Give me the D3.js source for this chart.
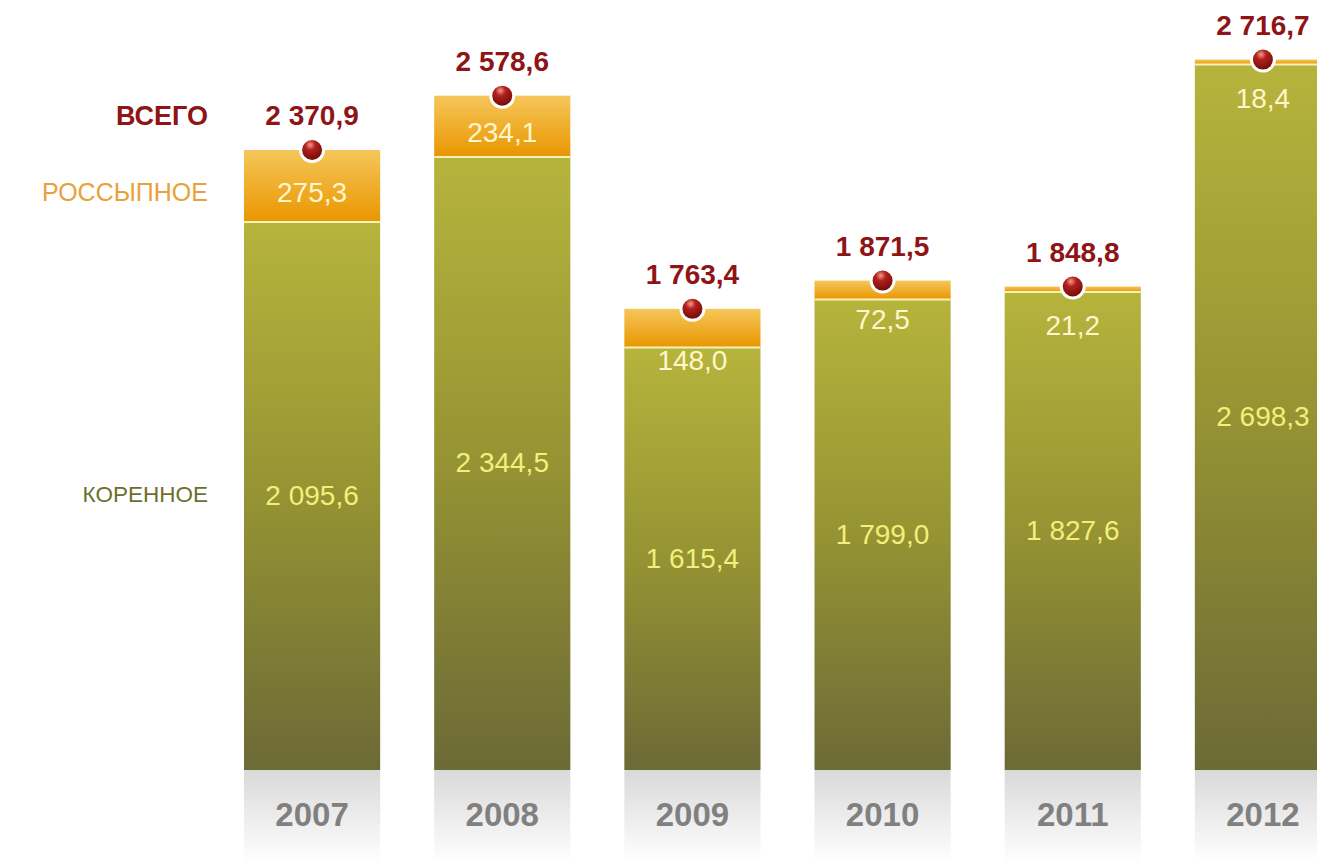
<!DOCTYPE html>
<html><head><meta charset="utf-8">
<script src="https://cdn.jsdelivr.net/npm/d3@7"></script>
<style>
html,body{margin:0;padding:0;background:#fff;}
svg{display:block;font-family:Arial,"Liberation Sans",sans-serif;}
</style></head>
<body>
<svg id="c" width="1317" height="863"></svg>
<script>
const years = ["2007","2008","2009","2010","2011","2012"];
const koren = [2095.6, 2344.5, 1615.4, 1799.0, 1827.6, 2698.3];
const rossyp = [275.3, 234.1, 148.0, 72.5, 21.2, 18.4];
const total = [2370.9, 2578.6, 1763.4, 1871.5, 1848.8, 2716.7];
const legend = ["ВСЕГО", "РОССЫПНОЕ", "КОРЕННОЕ"];

const fmt = v => {
  const s = v.toFixed(1).replace(".", ",");
  const [i, f] = s.split(",");
  return i.replace(/\B(?=(\d{3})+(?!\d))/g, " ") + "," + f;
};

const svg = d3.select("#c");
const W = 1317, H = 863;
const x = d3.scaleBand().domain(years).range([244, 1331]).paddingInner(0.284).paddingOuter(0);
const y = d3.scaleLinear().domain([0, 2370.9]).range([770, 150]);

const defs = svg.append("defs");
const gG = defs.append("linearGradient").attr("id","gG").attr("x1",0).attr("y1",0).attr("x2",0).attr("y2",1);
gG.append("stop").attr("offset","0%").attr("stop-color","#b6b43c");
gG.append("stop").attr("offset","50%").attr("stop-color","#959333");
gG.append("stop").attr("offset","100%").attr("stop-color","#6c6a36");
const gO = defs.append("linearGradient").attr("id","gO").attr("x1",0).attr("y1",0).attr("x2",0).attr("y2",1);
gO.append("stop").attr("offset","0%").attr("stop-color","#f6c65a");
gO.append("stop").attr("offset","100%").attr("stop-color","#e99600");
const gS = defs.append("linearGradient").attr("id","gS").attr("x1",0).attr("y1",0).attr("x2",0).attr("y2",1);
gS.append("stop").attr("offset","0%").attr("stop-color","#d9d9d9");
gS.append("stop").attr("offset","100%").attr("stop-color","#ffffff");
const gR = defs.append("radialGradient").attr("id","gR").attr("cx","42%").attr("cy","28%").attr("r","75%");
gR.append("stop").attr("offset","0%").attr("stop-color","#f39a8e");
gR.append("stop").attr("offset","30%").attr("stop-color","#b3201c");
gR.append("stop").attr("offset","100%").attr("stop-color","#640a08");

const data = years.map((yr,i)=>({yr, k:koren[i], r:rossyp[i], t:total[i]}));
const bw = x.bandwidth();

const g = svg.append("g");
g.selectAll(".strip").data(data).join("rect")
  .attr("x", d=>x(d.yr)).attr("y", y(0)).attr("width", bw).attr("height", H - y(0))
  .attr("fill","url(#gS)");
g.selectAll(".yr").data(data).join("text")
  .attr("x", d=>x(d.yr)+bw/2).attr("y", 826).attr("text-anchor","middle")
  .attr("font-size", 33).attr("font-weight","bold").attr("fill","#808080").text(d=>d.yr);
g.selectAll(".k").data(data).join("rect")
  .attr("x", d=>x(d.yr)).attr("y", d=>y(d.k)).attr("width", bw).attr("height", d=>y(0)-y(d.k))
  .attr("fill","url(#gG)");
g.selectAll(".r").data(data).join("rect")
  .attr("x", d=>x(d.yr)).attr("y", d=>y(d.k + d.r)).attr("width", bw).attr("height", d=>y(d.k)-y(d.k+d.r))
  .attr("fill","url(#gO)");
g.selectAll(".sep").data(data).join("line")
  .attr("x1", d=>x(d.yr)).attr("x2", d=>x(d.yr)+bw).attr("y1", d=>y(d.k)).attr("y2", d=>y(d.k))
  .attr("stroke","#f9f2b8").attr("stroke-width",2);
g.selectAll(".m").data(data).join("circle")
  .attr("cx", d=>x(d.yr)+bw/2).attr("cy", d=>y(d.t)).attr("r", 11.5)
  .attr("fill","url(#gR)").attr("stroke","#fff").attr("stroke-width",3);
g.selectAll(".tl").data(data).join("text")
  .attr("x", d=>x(d.yr)+bw/2).attr("y", d=>y(d.t)-25).attr("text-anchor","middle")
  .attr("font-size", 28).attr("font-weight","bold").attr("fill","#8e1416").text(d=>fmt(d.t));
g.selectAll(".kl").data(data).join("text")
  .attr("x", d=>x(d.yr)+bw/2).attr("y", d=>(y(d.k)+y(0))/2 + 9).attr("text-anchor","middle")
  .attr("font-size", 28).attr("fill","#f2f07a").text(d=>fmt(d.k));
g.selectAll(".rl").data(data).join("text")
  .attr("x", d=>x(d.yr)+bw/2)
  .attr("y", d=>{
    const top = y(d.t), b = y(d.k);
    if (b - top > 50) return (top + b)/2 + 16;
    return Math.max(b + 22, top + 48);
  })
  .attr("text-anchor","middle").attr("font-size", 28).attr("fill","#fff6cc").text(d=>fmt(d.r));

const lg = svg.append("g");
lg.append("text").attr("x",208).attr("y",125).attr("text-anchor","end")
  .attr("font-size",27).attr("font-weight","bold").attr("fill","#8e1416").text(legend[0]);
lg.append("text").attr("x",208).attr("y",201).attr("text-anchor","end")
  .attr("font-size",25).attr("fill","#e8a23a").text(legend[1]);
lg.append("text").attr("x",208).attr("y",502).attr("text-anchor","end")
  .attr("font-size",22.5).attr("fill","#6e6e2e").text(legend[2]);
</script>
</body></html>
